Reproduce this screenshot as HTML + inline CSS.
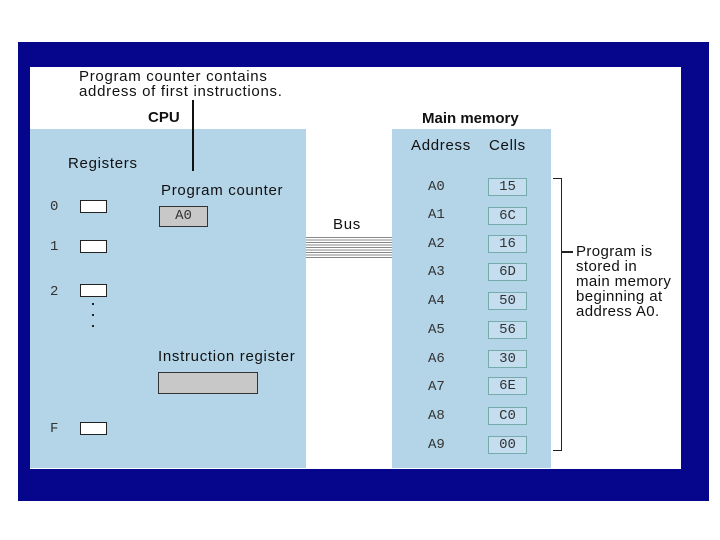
<!DOCTYPE html>
<html><head><style>
body{margin:0;width:720px;height:540px;background:#fff;position:relative;overflow:hidden;font-family:"Liberation Sans",sans-serif}
div{position:absolute}
.t{font-size:15px;letter-spacing:0.7px;color:#111;white-space:nowrap;line-height:15px}
.m{font-family:"Liberation Mono",monospace;font-size:14px;color:#333;white-space:nowrap}
.reg{width:25px;height:11px;border:1px solid #222;background:#fff}
.cell{left:488px;width:37px;height:16px;border:1px solid #7aa;background:#c4def0;text-align:center;line-height:16px}
</style></head><body>
<div style="left:18px;top:42px;width:691px;height:459px;background:#06068c"></div>
<div style="left:30px;top:67px;width:651px;height:402px;background:#fff"></div>
<div style="left:30px;top:129px;width:276px;height:339px;background:#b4d4e8"></div>
<div style="left:392px;top:129px;width:159px;height:339px;background:#b4d4e8"></div>
<div class="t" style="left:79px;top:69px">Program counter contains<br>address of first instructions.</div>
<div style="left:192px;top:100px;width:1.5px;height:71px;background:#111"></div>
<div class="t" style="left:148px;top:110px;font-weight:bold;letter-spacing:0">CPU</div>
<div class="t" style="left:68px;top:156px">Registers</div>
<div class="t" style="left:161px;top:183px">Program counter</div>
<div style="left:159px;top:206px;width:47px;height:19px;border:1px solid #333;background:#c8c8c8;text-align:center;line-height:19px" class="m">A0</div>
<div class="m" style="left:50px;top:199px">0</div><div class="reg" style="left:80px;top:200px"></div>
<div class="m" style="left:50px;top:239px">1</div><div class="reg" style="left:80px;top:240px"></div>
<div class="m" style="left:50px;top:284px">2</div><div class="reg" style="left:80px;top:284px"></div>
<div class="m" style="left:50px;top:421px">F</div><div class="reg" style="left:80px;top:422px"></div>
<div style="left:92px;top:303px;width:2px;height:2px;background:#222"></div>
<div style="left:92px;top:314px;width:2px;height:2px;background:#222"></div>
<div style="left:92px;top:325px;width:2px;height:2px;background:#222"></div>
<div class="t" style="left:158px;top:349px">Instruction register</div>
<div style="left:158px;top:372px;width:98px;height:20px;border:1px solid #333;background:#c8c8c8"></div>
<div class="t" style="left:333px;top:217px">Bus</div>
<div style="left:306px;top:237px;width:86px;height:21px;background:repeating-linear-gradient(#888 0 1px,#fff 1px 2.5px)"></div>
<div class="t" style="left:422px;top:111px;font-weight:bold;letter-spacing:0">Main memory</div>
<div class="t" style="left:411px;top:138px">Address</div>
<div class="t" style="left:489px;top:138px">Cells</div>
<div class="m" style="left:428px;top:179px">A0</div><div class="m cell" style="top:178px">15</div>
<div class="m" style="left:428px;top:207px">A1</div><div class="m cell" style="top:207px">6C</div>
<div class="m" style="left:428px;top:236px">A2</div><div class="m cell" style="top:235px">16</div>
<div class="m" style="left:428px;top:264px">A3</div><div class="m cell" style="top:263px">6D</div>
<div class="m" style="left:428px;top:293px">A4</div><div class="m cell" style="top:292px">50</div>
<div class="m" style="left:428px;top:322px">A5</div><div class="m cell" style="top:321px">56</div>
<div class="m" style="left:428px;top:351px">A6</div><div class="m cell" style="top:350px">30</div>
<div class="m" style="left:428px;top:379px">A7</div><div class="m cell" style="top:377px">6E</div>
<div class="m" style="left:428px;top:408px">A8</div><div class="m cell" style="top:407px">C0</div>
<div class="m" style="left:428px;top:437px">A9</div><div class="m cell" style="top:436px">00</div>
<div style="left:553px;top:178px;width:8px;height:271px;border:1.5px solid #222;border-left:none"></div>
<div style="left:562px;top:251px;width:11px;height:1.5px;background:#222"></div>
<div class="t" style="left:576px;top:244px;letter-spacing:0.4px">Program is<br>stored in<br>main memory<br>beginning at<br>address A0.</div>
</body></html>
